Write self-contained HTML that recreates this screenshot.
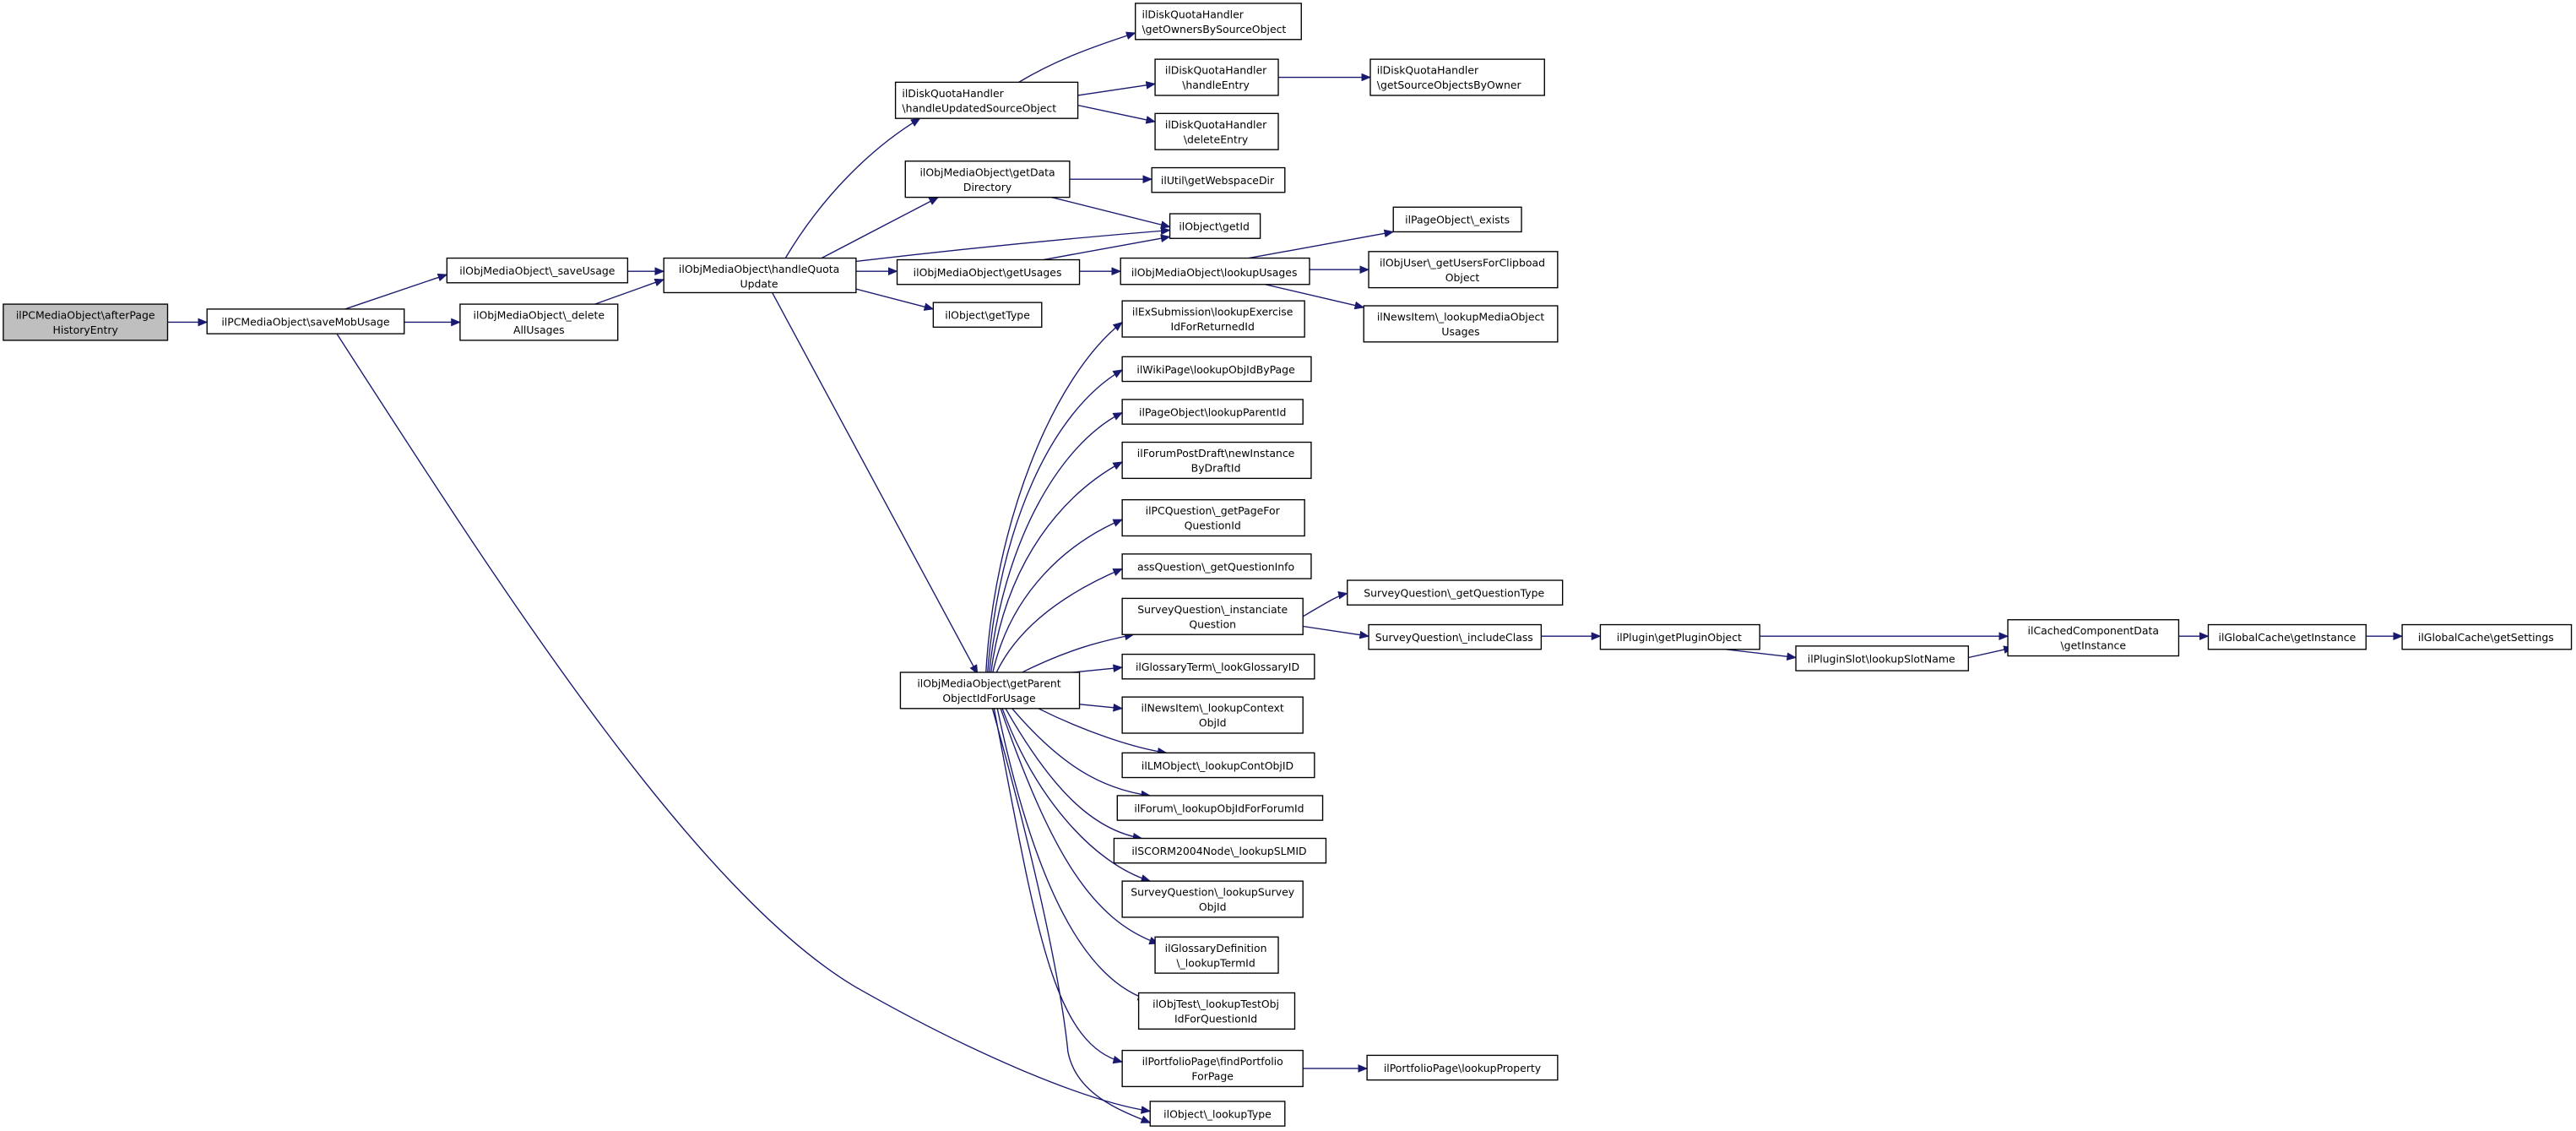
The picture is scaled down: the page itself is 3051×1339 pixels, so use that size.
<!DOCTYPE html>
<html><head><meta charset="utf-8"><style>html,body{margin:0;padding:0;background:#fff}svg{display:block}</style></head>
<body>
<svg width="3051" height="1339" viewBox="0 0 1567.8 688" xmlns="http://www.w3.org/2000/svg" font-family="'DejaVu Sans','Liberation Sans',sans-serif" font-size="6.4">
<defs><marker id="a" markerUnits="userSpaceOnUse" markerWidth="6" markerHeight="5" refX="5.5" refY="2.5" orient="auto"><path d="M0,0 L6,2.5 L0,5 z" fill="#191970"/></marker></defs>
<g fill="none" stroke="#191970" stroke-width="0.7" marker-end="url(#a)">
<path d="M102,196 L126,196"/>
<path d="M210,188 L272,167"/>
<path d="M246,196 L280,196"/>
<path d="M205,203 C300,350 420,540 520,600 C590,640 660,670 700,676"/>
<path d="M382,165 L404,165"/>
<path d="M362,185 L404,170"/>
<path d="M478,157 C500,120 530,90 560,72"/>
<path d="M500,157 L571,120"/>
<path d="M521,159 C580,152 650,145 712,140"/>
<path d="M521,165 L546,165"/>
<path d="M518,175 L568,188"/>
<path d="M470,178 L595,410"/>
<path d="M620,50 C640,38 660,30 691,20"/>
<path d="M656,58 L703,51"/>
<path d="M656,64 L703,74"/>
<path d="M778,47 L834,47"/>
<path d="M651,109 L701,109"/>
<path d="M640,120 L712,138"/>
<path d="M635,158 L712,144"/>
<path d="M657,165 L682,165"/>
<path d="M760,157 L848,141"/>
<path d="M797,164 L833,164"/>
<path d="M770,173 L830,187"/>
<path d="M600,410 C605,320 640,230 683,196"/>
<path d="M601,410 C608,320 640,250 683,225"/>
<path d="M602,410 C610,330 645,270 683,251"/>
<path d="M603,410 C612,340 648,300 683,281"/>
<path d="M604,410 C615,360 650,330 683,316"/>
<path d="M606,410 C620,380 650,360 683,346"/>
<path d="M620,410 C650,395 670,390 690,386"/>
<path d="M643,410 L683,406"/>
<path d="M643,427 L683,431"/>
<path d="M632,431 C660,445 690,455 710,458"/>
<path d="M616,431 C645,465 670,480 700,484"/>
<path d="M612,431 C640,480 665,505 695,510"/>
<path d="M610,431 C630,485 665,525 700,536"/>
<path d="M609,431 C640,520 665,560 705,574"/>
<path d="M607,431 C630,540 660,595 698,608"/>
<path d="M605,431 C630,560 640,635 683,646"/>
<path d="M604,431 C640,560 648,620 650,640 C655,665 680,675 700,683"/>
<path d="M793,375 C810,365 815,362 820,361"/>
<path d="M793,381 L833,387"/>
<path d="M938,387 L974,387"/>
<path d="M1071,387 L1222,387"/>
<path d="M1050,395 L1093,400"/>
<path d="M1198,400 L1225,394"/>
<path d="M1326,387 L1344,387"/>
<path d="M1440,387 L1462,387"/>
<path d="M793,650 L832,650"/>
</g>
<g stroke="#000" stroke-width="0.7" fill="#fff">
<rect x="2" y="185" width="100" height="22" fill="#bfbfbf"/>
<rect x="126" y="188" width="120" height="15"/>
<rect x="272" y="157" width="110" height="15"/>
<rect x="280" y="185" width="96" height="22"/>
<rect x="404" y="157" width="117" height="21"/>
<rect x="545" y="50" width="111" height="22"/>
<rect x="691" y="2" width="101" height="22"/>
<rect x="703" y="36" width="75" height="22"/>
<rect x="834" y="36" width="106" height="22"/>
<rect x="703" y="69" width="75" height="22"/>
<rect x="551" y="98" width="100" height="22"/>
<rect x="701" y="102" width="81" height="15"/>
<rect x="712" y="130" width="55" height="15"/>
<rect x="546" y="158" width="111" height="15"/>
<rect x="682" y="157" width="115" height="16"/>
<rect x="848" y="126" width="78" height="15"/>
<rect x="833" y="153" width="115" height="22"/>
<rect x="830" y="186" width="118" height="22"/>
<rect x="568" y="184" width="66" height="15"/>
<rect x="683" y="183" width="111" height="22"/>
<rect x="683" y="217" width="115" height="15"/>
<rect x="683" y="243" width="110" height="15"/>
<rect x="683" y="269" width="115" height="22"/>
<rect x="683" y="304" width="111" height="22"/>
<rect x="683" y="337" width="115" height="15"/>
<rect x="683" y="364" width="110" height="22"/>
<rect x="820" y="353" width="131" height="15"/>
<rect x="833" y="380" width="105" height="15"/>
<rect x="974" y="380" width="97" height="15"/>
<rect x="1093" y="393" width="105" height="15"/>
<rect x="1222" y="377" width="104" height="22"/>
<rect x="1344" y="380" width="96" height="15"/>
<rect x="1462" y="380" width="103" height="15"/>
<rect x="548" y="409" width="109" height="22"/>
<rect x="683" y="398" width="117" height="15"/>
<rect x="683" y="424" width="110" height="22"/>
<rect x="683" y="458" width="117" height="15"/>
<rect x="680" y="484" width="125" height="15"/>
<rect x="678" y="510" width="129" height="15"/>
<rect x="683" y="536" width="110" height="22"/>
<rect x="703" y="570" width="75" height="22"/>
<rect x="693" y="604" width="95" height="22"/>
<rect x="683" y="639" width="110" height="22"/>
<rect x="832" y="642" width="116" height="15"/>
<rect x="700" y="670" width="82" height="15"/>
</g>
<g fill="#000" text-anchor="middle">
<text x="52" y="194">ilPCMediaObject\afterPage</text><text x="52" y="203">HistoryEntry</text>
<text x="186" y="198">ilPCMediaObject\saveMobUsage</text>
<text x="327" y="167">ilObjMediaObject\_saveUsage</text>
<text x="328" y="194">ilObjMediaObject\_delete</text><text x="328" y="203">AllUsages</text>
<text x="462" y="166">ilObjMediaObject\handleQuota</text><text x="462" y="175">Update</text>
<text x="549" y="59" text-anchor="start">ilDiskQuotaHandler</text><text x="549" y="68" text-anchor="start">\handleUpdatedSourceObject</text>
<text x="695" y="11" text-anchor="start">ilDiskQuotaHandler</text><text x="695" y="20" text-anchor="start">\getOwnersBySourceObject</text>
<text x="740" y="45">ilDiskQuotaHandler</text><text x="740" y="54">\handleEntry</text>
<text x="838" y="45" text-anchor="start">ilDiskQuotaHandler</text><text x="838" y="54" text-anchor="start">\getSourceObjectsByOwner</text>
<text x="740" y="78">ilDiskQuotaHandler</text><text x="740" y="87">\deleteEntry</text>
<text x="601" y="107">ilObjMediaObject\getData</text><text x="601" y="116">Directory</text>
<text x="741" y="112">ilUtil\getWebspaceDir</text>
<text x="739" y="140">ilObject\getId</text>
<text x="601" y="168">ilObjMediaObject\getUsages</text>
<text x="739" y="168">ilObjMediaObject\lookupUsages</text>
<text x="887" y="136">ilPageObject\_exists</text>
<text x="890" y="162">ilObjUser\_getUsersForClipboad</text><text x="890" y="171">Object</text>
<text x="889" y="195">ilNewsItem\_lookupMediaObject</text><text x="889" y="204">Usages</text>
<text x="601" y="194">ilObject\getType</text>
<text x="738" y="192">ilExSubmission\lookupExercise</text><text x="738" y="201">IdForReturnedId</text>
<text x="740" y="227">ilWikiPage\lookupObjIdByPage</text>
<text x="738" y="253">ilPageObject\lookupParentId</text>
<text x="740" y="278">ilForumPostDraft\newInstance</text><text x="740" y="287">ByDraftId</text>
<text x="738" y="313">ilPCQuestion\_getPageFor</text><text x="738" y="322">QuestionId</text>
<text x="740" y="347">assQuestion\_getQuestionInfo</text>
<text x="738" y="373">SurveyQuestion\_instanciate</text><text x="738" y="382">Question</text>
<text x="885" y="363">SurveyQuestion\_getQuestionType</text>
<text x="885" y="390">SurveyQuestion\_includeClass</text>
<text x="1022" y="390">ilPlugin\getPluginObject</text>
<text x="1145" y="403">ilPluginSlot\lookupSlotName</text>
<text x="1274" y="386">ilCachedComponentData</text><text x="1274" y="395">\getInstance</text>
<text x="1392" y="390">ilGlobalCache\getInstance</text>
<text x="1513" y="390">ilGlobalCache\getSettings</text>
<text x="602" y="418">ilObjMediaObject\getParent</text><text x="602" y="427">ObjectIdForUsage</text>
<text x="741" y="408">ilGlossaryTerm\_lookGlossaryID</text>
<text x="738" y="433">ilNewsItem\_lookupContext</text><text x="738" y="442">ObjId</text>
<text x="741" y="468">ilLMObject\_lookupContObjID</text>
<text x="742" y="494">ilForum\_lookupObjIdForForumId</text>
<text x="742" y="520">ilSCORM2004Node\_lookupSLMID</text>
<text x="738" y="545">SurveyQuestion\_lookupSurvey</text><text x="738" y="554">ObjId</text>
<text x="740" y="579">ilGlossaryDefinition</text><text x="740" y="588">\_lookupTermId</text>
<text x="740" y="613">ilObjTest\_lookupTestObj</text><text x="740" y="622">IdForQuestionId</text>
<text x="738" y="648">ilPortfolioPage\findPortfolio</text><text x="738" y="657">ForPage</text>
<text x="890" y="652">ilPortfolioPage\lookupProperty</text>
<text x="741" y="680">ilObject\_lookupType</text>
</g>
</svg>
</body></html>
